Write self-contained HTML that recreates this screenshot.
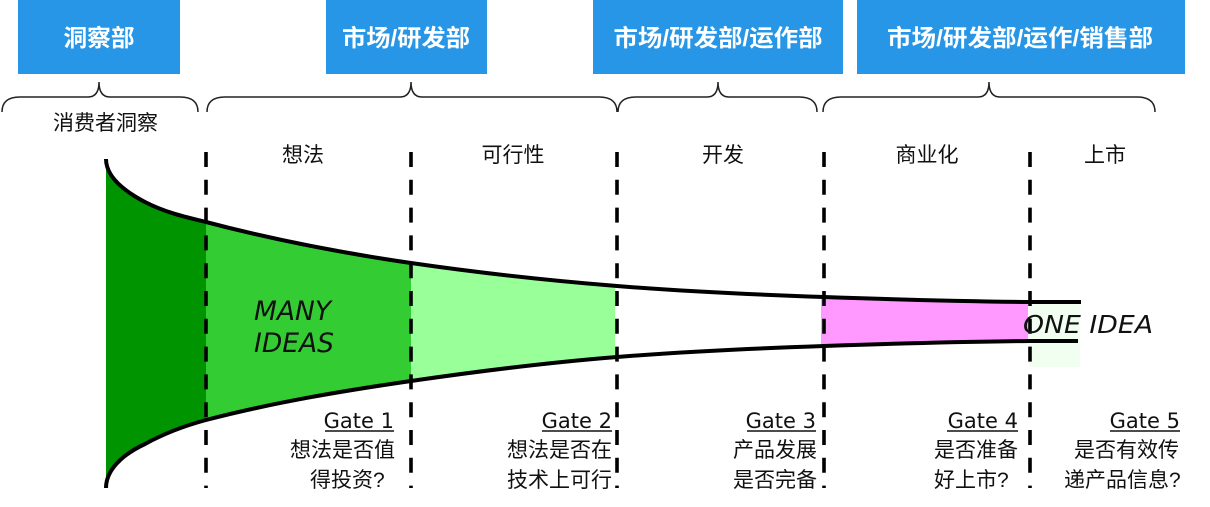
<!DOCTYPE html>
<html><head><meta charset="utf-8"><style>
html,body{margin:0;padding:0;background:#fff;}
svg{display:block;}
.cj{font-family:"Liberation Sans","Noto Sans CJK SC",sans-serif;}
.bx{font-family:"Liberation Sans","Noto Sans CJK SC",sans-serif;font-weight:bold;fill:#fff;font-size:23.5px;}
.gt{font-family:"DejaVu Sans","Liberation Sans",sans-serif;font-size:21px;fill:#111;}
.it{font-family:"DejaVu Sans","Liberation Sans",sans-serif;font-style:italic;fill:#111;}
</style></head><body>
<svg width="1210" height="507" viewBox="0 0 1210 507" xmlns="http://www.w3.org/2000/svg">
<rect x="0" y="0" width="1210" height="507" fill="#fff"/>
<!-- blue boxes -->
<rect x="18" y="0" width="162" height="74" fill="#2896E6"/>
<rect x="326" y="0" width="161" height="74" fill="#2896E6"/>
<rect x="593" y="0" width="250" height="74" fill="#2896E6"/>
<rect x="857" y="0" width="328" height="74" fill="#2896E6"/>
<text class="bx" x="99" y="46" text-anchor="middle" textLength="71" lengthAdjust="spacingAndGlyphs">洞察部</text>
<text class="bx" x="406" y="46" text-anchor="middle" textLength="128" lengthAdjust="spacingAndGlyphs">市场/研发部</text>
<text class="bx" x="718" y="46" text-anchor="middle" textLength="209" lengthAdjust="spacingAndGlyphs">市场/研发部/运作部</text>
<text class="bx" x="1020" y="46" text-anchor="middle" textLength="266" lengthAdjust="spacingAndGlyphs">市场/研发部/运作/销售部</text>
<!-- braces -->
<g fill="none" stroke="#222" stroke-width="1.5">
<path d="M2,112 Q2,97 20,97 L88,97 Q99,97 99,82 Q99,97 110,97 L180,97 Q198,97 198,112"/>
<path d="M207,112 Q207,97 225,97 L400,97 Q411,97 411,82 Q411,97 422,97 L599,97 Q617,97 617,112"/>
<path d="M618,112 Q618,97 636,97 L707,97 Q718,97 718,82 Q718,97 729,97 L799,97 Q817,97 817,112"/>
<path d="M823,112 Q823,97 841,97 L978,97 Q989,97 989,82 Q989,97 1000,97 L1137,97 Q1155,97 1155,112"/>
</g>
<!-- labels -->
<g class="cj" font-size="21" fill="#111" text-anchor="middle">
<text x="105.5" y="130">消费者洞察</text>
<text x="303" y="162">想法</text>
<text x="513" y="162">可行性</text>
<text x="723" y="162">开发</text>
<text x="927" y="162">商业化</text>
<text x="1105" y="162">上市</text>
</g>
<!-- fills -->
<path d="M106,159 C106,180 132,195.2 145,202 C165,212.4 185,216.8 206,222 L206,420 C186,425.4 165,433 145,444 C132,450 106,465 106,487 Z" fill="#009400"/>
<path d="M206,222 C273,239.7 343,253.1 411,263 L411,381 C343,390.9 274,402.3 206,420 Z" fill="#33CC33"/>
<path d="M411,263 C480,273 548,280.5 615,286 L615,357 C548,362.5 480,371 411,381 Z" fill="#99FF99"/>
<path d="M821,297 C893,299.4 961,301.3 1028,302 L1028,341 C961,341.7 893,343.6 821,346 Z" fill="#FF99FF"/>
<rect x="1029" y="302" width="51" height="65" fill="#F0FFF0"/>
<!-- funnel curves -->
<g fill="none" stroke="#000" stroke-width="4">
<path d="M106,159 C106,180 132,195.2 145,202 C165,212.4 185,216.8 206,222 C273,239.7 343,253.1 411,263 C480,273 548,280.5 617,286 C686,291.5 755,294.6 824,297 C893,299.4 961,301.3 1030,302 L1081,302"/>
<path d="M106,488 C106,465 132,450 145,444 C165,433 186,425.4 206,420 C274,402.3 343,390.9 411,381 C480,371 548,362.5 617,357 C686,351.5 755,348.4 824,346 C893,343.6 961,341.7 1030,341 L1078,341"/>
</g>
<!-- dashed lines -->
<g stroke="#000" stroke-width="3.6" stroke-dasharray="15 12.8">
<line x1="206" y1="152" x2="206" y2="488"/>
<line x1="411" y1="152" x2="411" y2="488"/>
<line x1="617" y1="152" x2="617" y2="488"/>
<line x1="824" y1="152" x2="824" y2="488"/>
<line x1="1030" y1="152" x2="1030" y2="488"/>
</g>
<!-- big italic labels -->
<text class="it" x="254" y="320" font-size="26.5">MANY</text>
<text class="it" x="254" y="352" font-size="26.5">IDEAS</text>
<text class="it" x="1023" y="333" font-size="25" textLength="130" lengthAdjust="spacingAndGlyphs">ONE IDEA</text>
<!-- gates -->
<g class="gt" text-anchor="end">
<text x="394" y="428">Gate 1</text>
<text x="612" y="428">Gate 2</text>
<text x="816" y="428">Gate 3</text>
<text x="1018" y="428">Gate 4</text>
<text x="1180" y="428">Gate 5</text>
</g>
<g stroke="#111" stroke-width="1.4">
<line x1="325" y1="431" x2="394" y2="431"/>
<line x1="542" y1="431" x2="612" y2="431"/>
<line x1="747" y1="431" x2="816" y2="431"/>
<line x1="947" y1="431" x2="1018" y2="431"/>
<line x1="1110" y1="431" x2="1180" y2="431"/>
</g>
<g class="cj" font-size="21" fill="#111">
<text x="290" y="457">想法是否值</text>
<text x="310" y="487">得投资?</text>
<text x="507" y="457">想法是否在</text>
<text x="507" y="487">技术上可行</text>
<text x="733" y="457">产品发展</text>
<text x="733" y="487">是否完备</text>
<text x="934" y="457">是否准备</text>
<text x="934" y="487">好上市?</text>
<text x="1074" y="457">是否有效传</text>
<text x="1064" y="487">递产品信息?</text>
</g>
</svg>
</body></html>
